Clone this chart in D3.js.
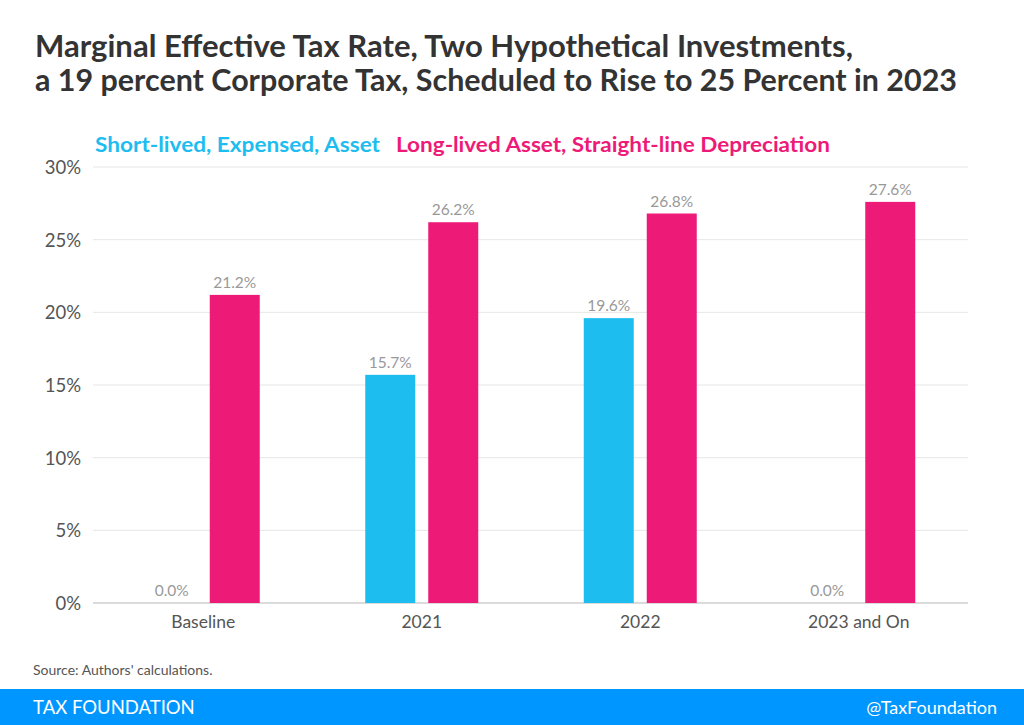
<!DOCTYPE html>
<html><head><meta charset="utf-8">
<script src="https://cdn.jsdelivr.net/npm/d3@7/dist/d3.min.js"></script>
<style>body{margin:0;background:#fff;}svg{display:block;font-family:Lato,"Open Sans",sans-serif;}</style>
</head><body>
<svg id="c" width="1024" height="725"></svg>
<script>
const categories = ["Baseline", "2021", "2022", "2023 and On"];
const seriesNames = ["Short-lived, Expensed, Asset", "Long-lived Asset, Straight-line Depreciation"];
const shortLived = [0.0, 15.7, 19.6, 0.0];
const longLived = [21.2, 26.2, 26.8, 27.6];
const yTicks = [0, 5, 10, 15, 20, 25, 30];
const colors = ["#1dbdf0", "#ee1a78"];

const svg = d3.select("#c");
const x = d3.scaleBand().domain(categories).range([94, 968]).padding(0);
const y = d3.scaleLinear().domain([0, 30]).range([603, 167]);

// title
svg.append("text").attr("x", 35).attr("y", 57).attr("font-size", 30).attr("font-weight", 700)
  .attr("fill", "#333").attr("textLength", 818).attr("lengthAdjust", "spacingAndGlyphs")
  .text("Marginal Effective Tax Rate, Two Hypothetical Investments,");
svg.append("text").attr("x", 35).attr("y", 91).attr("font-size", 30).attr("font-weight", 700)
  .attr("fill", "#333").attr("textLength", 922).attr("lengthAdjust", "spacingAndGlyphs")
  .text("a 19 percent Corporate Tax, Scheduled to Rise to 25 Percent in 2023");

// legend
svg.append("text").attr("x", 95).attr("y", 152).attr("font-size", 21).attr("font-weight", 700)
  .attr("fill", colors[0]).attr("textLength", 285).attr("lengthAdjust", "spacingAndGlyphs").text(seriesNames[0]);
svg.append("text").attr("x", 396).attr("y", 152).attr("font-size", 21).attr("font-weight", 700)
  .attr("fill", colors[1]).attr("textLength", 434).attr("lengthAdjust", "spacingAndGlyphs").text(seriesNames[1]);

// grid
const g = svg.append("g");
g.selectAll("line.grid").data(yTicks.filter(d => d > 0)).join("line")
  .attr("x1", 93).attr("x2", 968).attr("y1", d => y(d)).attr("y2", d => y(d))
  .attr("stroke", "#e6e6e6").attr("stroke-width", 1);
g.append("line").attr("x1", 93).attr("x2", 968).attr("y1", y(0)).attr("y2", y(0))
  .attr("stroke", "#cfcfcf").attr("stroke-width", 1.5);

// y axis labels
const yAxis = d3.axisLeft(y).tickValues(yTicks).tickFormat(d => d + "%").tickSize(0).tickPadding(0);
const ya = svg.append("g").attr("transform", "translate(81,0)").call(yAxis);
ya.select(".domain").remove();
ya.selectAll("text").attr("font-size", 18.5).attr("fill", "#555").attr("font-family", "Lato,sans-serif").attr("dy", "0.35em");

// x axis labels
const xAxis = d3.axisBottom(x).tickSize(0).tickPadding(0);
const xa = svg.append("g").attr("transform", "translate(0,616)").call(xAxis);
xa.select(".domain").remove();
xa.selectAll("text").attr("font-size", 17.5).attr("fill", "#555").attr("font-family", "Lato,sans-serif");

// bars
const barW = 50, off = 31.5;
const series = [shortLived, longLived];
series.forEach((vals, si) => {
  const cx = c => x(c) + x.bandwidth() / 2 + (si === 0 ? -off : off);
  svg.append("g").selectAll("rect").data(categories).join("rect")
    .attr("x", (c) => cx(c) - barW / 2)
    .attr("width", barW)
    .attr("y", (c, i) => y(vals[i]))
    .attr("height", (c, i) => y(0) - y(vals[i]))
    .attr("fill", colors[si]);
  svg.append("g").selectAll("text").data(categories).join("text")
    .attr("x", c => cx(c))
    .attr("y", (c, i) => y(vals[i]) - 7)
    .attr("text-anchor", "middle").attr("font-size", 15.5).attr("fill", "#999")
    .text((c, i) => vals[i].toFixed(1) + "%");
});

// source
svg.append("text").attr("x", 33).attr("y", 675).attr("font-size", 14).attr("fill", "#555")
  .text("Source: Authors' calculations.");

// footer
svg.append("rect").attr("x", 0).attr("y", 689).attr("width", 1024).attr("height", 36).attr("fill", "#0096ff");
svg.append("text").attr("x", 33).attr("y", 714).attr("font-size", 18.5).attr("fill", "#fff")
  .text("TAX FOUNDATION");
svg.append("text").attr("x", 997).attr("y", 714).attr("font-size", 18).attr("fill", "#fff")
  .attr("text-anchor", "end").text("@TaxFoundation");
</script>
</body></html>
